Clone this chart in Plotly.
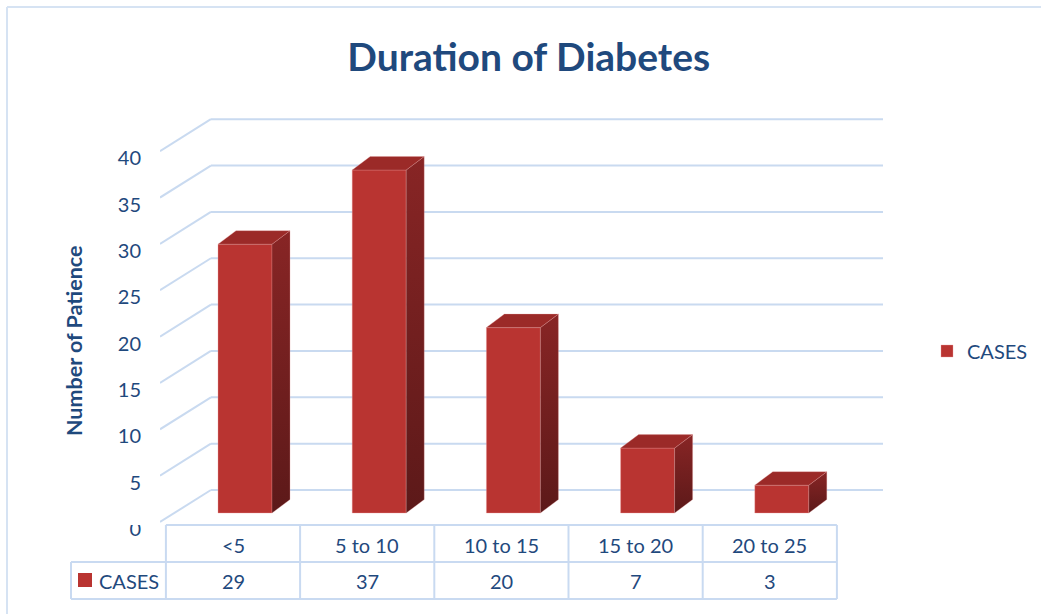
import plotly.graph_objects as go

# ---------------- data ----------------
categories = ["<5", "5 to 10", "10 to 15", "15 to 20", "20 to 25"]
cases = [29, 37, 20, 7, 3]
series_name = "CASES"
tick_values = [0, 5, 10, 15, 20, 25, 30, 35, 40]
title_text = "Duration of Diabetes"
y_title = "Number of Patience"

# ---------------- geometry / style ----------------
W, H = 1041, 614
ML, MR, MT, MB = 160, 158, 110, 84
PX_CAT = 134.2          # pixels per category
PX_UNIT = 9.27          # pixels per value unit
X0_PX = 233.0           # pixel of category 0 (front)
Y0_PX = 513.0           # pixel of value 0 (bar base)

def ux(px):
    return (px - X0_PX) / PX_CAT

def uy(py):
    return (Y0_PX - py) / PX_UNIT

x_range = [ux(ML), ux(W - MR)]
y_range = [uy(H - MB), uy(MT)]

def paper_x(px):
    return (px - ML) / (W - ML - MR)

def paper_y(py):
    return (H - MB - py) / (H - MT - MB)

FLOOR_DX = 45 / PX_CAT       # depth of floor in x units
BACK_DY = uy(490)            # back wall zero offset
FRONT_DY = uy(522)           # front edge zero offset
LABEL_DY = uy(529)           # tick label zero offset
BAR_SHIFT = 12 / PX_CAT
BAR_W = 54 / PX_CAT
BAR_DX = 18 / PX_CAT
BAR_DY = 13.5 / PX_UNIT

DARK = "#1f497d"
GRID = "#c9daf0"
FONT = "Lato"
EDGE = "rgba(225,150,150,0.5)"

fig = go.Figure()
shapes = []
annotations = []

# back wall + side wall gridlines (below the bars)
for v in tick_values:
    xb = -0.5 + FLOOR_DX
    shapes.append(dict(type="line", xref="x", yref="y", layer="below",
                       x0=x_range[0], y0=v + FRONT_DY, x1=xb, y1=v + BACK_DY,
                       line=dict(color=GRID, width=2)))
    shapes.append(dict(type="line", xref="x", yref="y", layer="below",
                       x0=xb, y0=v + BACK_DY, x1=x_range[1], y1=v + BACK_DY,
                       line=dict(color=GRID, width=2)))

# side and top faces of bars
for i, v in enumerate(cases):
    xc = i + BAR_SHIFT
    xl, xr = xc - BAR_W / 2, xc + BAR_W / 2
    fig.add_trace(go.Scatter(
        x=[xr, xr + BAR_DX, xr + BAR_DX, xr, xr],
        y=[0, BAR_DY, v + BAR_DY, v, 0],
        mode="lines", fill="toself", line=dict(color=EDGE, width=0.6),
        fillgradient=dict(type="vertical",
                          colorscale=[[0, "#5c1919"], [1, "#882525"]]),
        hoverinfo="skip", showlegend=False))
    fig.add_trace(go.Scatter(
        x=[xl, xr, xr + BAR_DX, xl + BAR_DX, xl],
        y=[v, v, v + BAR_DY, v + BAR_DY, v],
        mode="lines", fill="toself", line=dict(color=EDGE, width=0.6),
        fillcolor="#9b2a28", hoverinfo="skip", showlegend=False))

# front faces
fig.add_trace(go.Bar(
    x=[i + BAR_SHIFT for i in range(len(categories))], y=cases, width=BAR_W,
    name=series_name,
    marker=dict(color="#b93431", line=dict(color="rgba(235,160,160,0.6)", width=0.6)),
    hoverinfo="skip"))

# outer chart border
shapes.append(dict(type="line", xref="paper", yref="paper",
                   x0=paper_x(7), x1=paper_x(W + 5), y0=paper_y(7), y1=paper_y(7),
                   line=dict(color="#d6e3f3", width=2)))
shapes.append(dict(type="line", xref="paper", yref="paper",
                   x0=paper_x(7), x1=paper_x(7), y0=paper_y(7), y1=paper_y(H + 5),
                   line=dict(color="#d6e3f3", width=2)))

# the floor edge partly hides the "0" label
shapes.append(dict(type="rect", xref="paper", yref="paper", layer="above",
                   x0=paper_x(115), x1=paper_x(158), y0=paper_y(525), y1=paper_y(505),
                   fillcolor="white", line=dict(width=0)))

# data table
col_edges = [X0_PX + (k - 0.5) * PX_CAT for k in range(len(categories) + 1)]
T_TOP, T_MID, T_BOT, T_LEFT = 525, 562, 599, 71
tl = dict(color="#c9daf1", width=2)
shapes.append(dict(type="line", xref="paper", yref="paper", layer="above",
                   x0=paper_x(col_edges[0]), x1=paper_x(col_edges[-1]),
                   y0=paper_y(T_TOP), y1=paper_y(T_TOP), line=tl))
for yy in (T_MID, T_BOT):
    shapes.append(dict(type="line", xref="paper", yref="paper", layer="above",
                       x0=paper_x(T_LEFT), x1=paper_x(col_edges[-1]),
                       y0=paper_y(yy), y1=paper_y(yy), line=tl))
for xe in col_edges:
    shapes.append(dict(type="line", xref="paper", yref="paper", layer="above",
                       x0=paper_x(xe), x1=paper_x(xe),
                       y0=paper_y(T_TOP), y1=paper_y(T_BOT), line=tl))
shapes.append(dict(type="line", xref="paper", yref="paper", layer="above",
                   x0=paper_x(T_LEFT), x1=paper_x(T_LEFT),
                   y0=paper_y(T_MID), y1=paper_y(T_BOT), line=tl))
# legend key in table
shapes.append(dict(type="rect", xref="paper", yref="paper", layer="above",
                   x0=paper_x(78), x1=paper_x(92), y0=paper_y(587), y1=paper_y(573),
                   fillcolor="#b93431", line=dict(width=0)))

for k, (c, v) in enumerate(zip(categories, cases)):
    xm = (col_edges[k] + col_edges[k + 1]) / 2
    annotations.append(dict(x=paper_x(xm), y=paper_y((T_TOP + T_MID) / 2 + 1), xref="paper", yref="paper",
                            text=c, showarrow=False, xanchor="center", yanchor="middle",
                            font=dict(family=FONT, size=20, color=DARK)))
    annotations.append(dict(x=paper_x(xm), y=paper_y((T_MID + T_BOT) / 2), xref="paper", yref="paper",
                            text=str(v), showarrow=False, xanchor="center", yanchor="middle",
                            font=dict(family=FONT, size=20, color=DARK)))
annotations.append(dict(x=paper_x(97), y=paper_y((T_MID + T_BOT) / 2), xref="paper", yref="paper",
                        text=series_name, showarrow=False, xanchor="left", yanchor="middle",
                        font=dict(family=FONT, size=20, color=DARK)))

# y axis title
annotations.append(dict(x=paper_x(74), y=paper_y(341), xref="paper", yref="paper",
                        text="<b>" + y_title + "</b>", showarrow=False, textangle=-90,
                        xanchor="center", yanchor="middle",
                        font=dict(family=FONT, size=21.5, color=DARK)))

fig.update_layout(
    width=W, height=H,
    margin=dict(l=ML, r=MR, t=MT, b=MB, autoexpand=False),
    paper_bgcolor="white", plot_bgcolor="white",
    title=dict(text="<b>" + title_text + "</b>", x=0.51, xref="paper", xanchor="center",
               y=1 - 57 / H, yanchor="middle",
               font=dict(family=FONT, size=39, color=DARK)),
    xaxis=dict(range=x_range, showgrid=False, zeroline=False, showticklabels=False,
               showline=False, ticks=""),
    yaxis=dict(range=y_range, showgrid=False, zeroline=False, showline=False,
               tickvals=[v + LABEL_DY for v in tick_values],
               ticktext=[str(v) for v in tick_values],
               ticks="outside", ticklen=14, tickcolor="rgba(0,0,0,0)",
               tickfont=dict(family=FONT, size=20, color=DARK)),
    legend=dict(x=paper_x(927), y=paper_y(351), xanchor="left", yanchor="middle",
                font=dict(family=FONT, size=20, color=DARK), bgcolor="rgba(0,0,0,0)"),
    shapes=shapes, annotations=annotations,
    showlegend=True,
)

fig.write_html("out.html")
